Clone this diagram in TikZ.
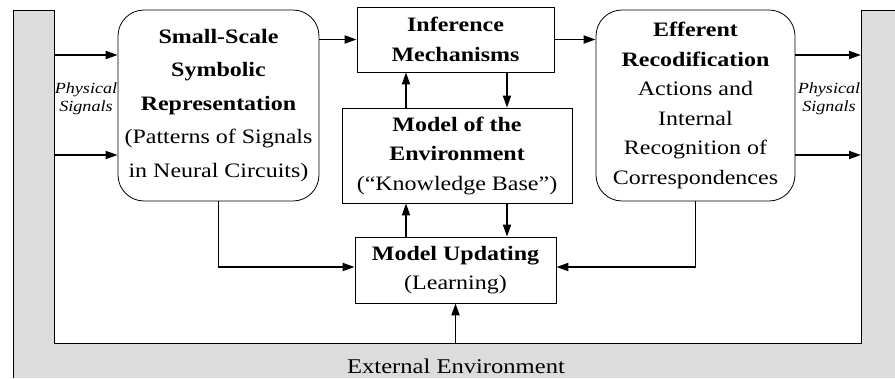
\documentclass[tikz,border=0pt]{standalone}
\usepackage{fontspec}
\setmainfont[FakeStretch=1.17]{Liberation Serif}
\usetikzlibrary{arrows.meta}
\definecolor{wallgray}{RGB}{220,220,220}
\begin{document}
\begin{tikzpicture}[x=1pt,y=-1pt,
  box/.style={draw, line width=0.8pt, fill=white, align=center, inner sep=0pt,
    font=\fontsize{20.5}{29.5}\selectfont},
  roundbox/.style={box, rounded corners=26pt},
  arr/.style={line width=1.8pt, -{Triangle[length=12pt,width=8pt]}},
  sig/.style={font=\fontsize{15.5}{18}\selectfont\itshape, align=center, inner sep=0pt}
]
\useasboundingbox (0,0) rectangle (895,378);

% external environment wall
\fill[wallgray] (13,10) -- (54,10) -- (54,343) -- (861,343) -- (861,10) -- (895,10)
  -- (895,378) -- (13,378) -- cycle;
\draw[line width=0.8pt] (13,378) -- (13,10) -- (54,10) -- (54,343) -- (861,343)
  -- (861,10) -- (895,10);
\node[font=\fontsize{21}{26}\selectfont] (ext) at (456,366) {External Environment};

% blocks
\node[roundbox, minimum width=201pt, minimum height=191pt,
  font=\fontsize{20.5}{33.5}\selectfont] (sss) at (218.5,105.5)
  {\textbf{Small-Scale}\\ \textbf{Symbolic}\\ \textbf{Representation}\\
   (Patterns of Signals\\ in Neural Circuits)};
\node[box, minimum width=197pt, minimum height=65pt] (inf) at (455.5,39.5)
  {\textbf{Inference}\\ \textbf{Mechanisms}};
\node[box, minimum width=230pt, minimum height=95pt] (env) at (457,155.5)
  {\textbf{Model of the}\\ \textbf{Environment}\\ (“Knowledge Base”)};
\node[box, minimum width=201pt, minimum height=66pt] (upd) at (455.5,270)
  {\textbf{Model Updating}\\ (Learning)};
\node[roundbox, minimum width=199pt, minimum height=191pt] (eff) at (695.5,105.5)
  {\textbf{Efferent}\\ \textbf{Recodification}\\ Actions and\\ Internal\\
   Recognition of\\ Correspondences};

% signal labels
\node[sig] (psl) at (86,99) {Physical\\Signals};
\node[sig] (psr) at (829,99) {Physical\\Signals};

% wall attachment points
\coordinate (wl1) at (54,55);
\coordinate (wl2) at (54,155);
\coordinate (wr1) at (861,55);
\coordinate (wr2) at (861,155);
\coordinate (wb) at (455.5,343);

% connectors
\draw[arr] (wl1) -- (wl1 -| sss.west);
\draw[arr] (wl2) -- (wl2 -| sss.west);
\draw[arr] (wr1 -| eff.east) -- (wr1);
\draw[arr] (wr2 -| eff.east) -- (wr2);
\draw[arr] (sss.east |- inf.west) -- (inf.west);
\draw[arr] (inf.east) -- (inf.east -| eff.west);
\draw[arr] ([xshift=-51pt]env.north) -- ([xshift=-51pt]env.north |- inf.south);
\draw[arr] ([xshift=50pt]env.north |- inf.south) -- ([xshift=50pt]env.north);
\draw[arr] ([xshift=-51pt]env.south |- upd.north) -- ([xshift=-51pt]env.south);
\draw[arr] ([xshift=50pt]env.south) -- ([xshift=50pt]env.south |- upd.north);
\draw[arr] (sss.south) |- ([yshift=3pt]upd.west);
\draw[arr] (eff.south) |- ([yshift=3pt]upd.east);
\draw[arr] (wb) -- (upd.south);
\end{tikzpicture}
\end{document}
